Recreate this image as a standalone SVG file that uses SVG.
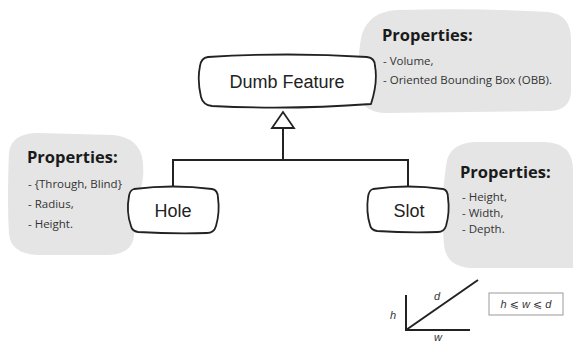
<svg xmlns="http://www.w3.org/2000/svg" width="573" height="345" viewBox="0 0 573 345">
<defs>
<style>
.blob{fill:#e5e5e5;stroke:none}
.node{fill:#fff;stroke:#222;stroke-width:1.8;stroke-linejoin:round}
.lbl{font-family:"Liberation Sans",Arial,sans-serif;font-size:18px;fill:#222;text-anchor:middle;dominant-baseline:central}
.ph{font-family:"Open Sans","Noto Sans",sans-serif;font-weight:bold;font-size:16.5px;fill:#1a1a1a}
.pi{font-family:"Open Sans","Noto Sans",sans-serif;font-size:11.5px;fill:#333}
.conn{fill:none;stroke:#222;stroke-width:2}
.it{font-family:"Liberation Sans","DejaVu Sans",sans-serif;font-style:italic;font-size:11px;fill:#333}
</style>
<marker id="tri" markerUnits="userSpaceOnUse" markerWidth="20" markerHeight="26" viewBox="-2 -2 20 26" refX="16" refY="11" orient="auto">
<path d="M0,0 L16,11 L0,22 Z" fill="#fff" stroke="#222" stroke-width="1.8" stroke-linejoin="miter"/>
</marker>
</defs>
<rect width="573" height="345" fill="#fff"/>

<g id="props-dumb">
<path class="blob" d="M362,34 Q370,11 398,10 Q480,8 548,12 Q571,14 571,40 L571,92 Q570,110 550,111 L385,113 Q360,112 359,90 Q357,55 362,34 Z"/>
<text class="ph" x="382" y="41">Properties:</text>
<text class="pi" x="383" y="65">- Volume,</text>
<text class="pi" x="383" y="84">- Oriented Bounding Box (OBB).</text>
</g>

<g id="props-hole">
<path class="blob" d="M9,152 Q12,133 38,133 L112,135 Q140,137 143,162 Q145,185 136,200 L134,236 Q132,254 108,255 L38,255 Q11,254 9,234 Q7,200 9,152 Z"/>
<text class="ph" x="27" y="163">Properties:</text>
<text class="pi" x="28" y="188">- {Through, Blind}</text>
<text class="pi" x="28" y="208">- Radius,</text>
<text class="pi" x="28" y="228">- Height.</text>
</g>

<g id="props-slot">
<path class="blob" d="M447,160 Q452,143 475,142 L545,142 Q573,143 573,170 L573,268 L470,268 Q446,266 444,245 Q440,200 447,160 Z"/>
<text class="ph" x="460" y="178">Properties:</text>
<text class="pi" x="462" y="201">- Height,</text>
<text class="pi" x="462" y="217">- Width,</text>
<text class="pi" x="462" y="233">- Depth.</text>
</g>

<g id="connectors">
<path class="conn" d="M173,187 L173,160 L408,160 L408,187"/>
<path class="conn" d="M283,160 L283,112" marker-end="url(#tri)"/>
</g>

<g id="dumb-feature">
<path class="node" d="M208,57 Q288,52 367,57 Q375,58 375,66 Q378,82 371,104 Q290,110 212,106 Q203,105 201,97 Q197,80 200,66 Q201,58 208,57 Z"/>
<text class="lbl" x="287" y="82">Dumb Feature</text>
</g>

<g id="hole">
<path class="node" d="M134,189 Q173,184 212,189 Q218,190 218,198 Q220,212 216,226 Q214,233 207,233 Q173,234 138,232 Q132,231 131,226 Q126,212 129,196 Q130,190 134,189 Z"/>
<text class="lbl" x="173" y="211">Hole</text>
</g>

<g id="slot">
<path class="node" d="M373,189 Q408,184 443,189 Q448,190 448,198 Q450,212 446,226 Q444,232 438,232 Q408,233 377,231 Q371,230 370,225 Q366,212 368,197 Q369,190 373,189 Z"/>
<text class="lbl" x="409" y="211">Slot</text>
</g>

<g id="dims">
<path class="conn" d="M406,295 L406,330 L470,330"/>
<path class="conn" d="M406,330 L478,280"/>
<text class="it" x="390" y="319">h</text>
<text class="it" x="434" y="300">d</text>
<text class="it" x="434" y="341">w</text>
<rect x="489" y="293" width="74" height="22" fill="#fff" stroke="#999" stroke-width="1"/>
<text class="it" x="526" y="308" text-anchor="middle">h ⩽ w ⩽ d</text>
</g>
</svg>
